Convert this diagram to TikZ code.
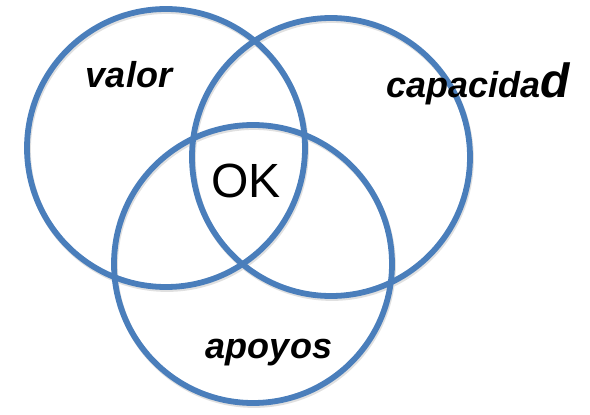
\documentclass[tikz,border=0pt]{standalone}
\usepackage{fontspec}
\setmainfont{Liberation Sans}
\usepackage{tikz}
\usetikzlibrary{shapes.geometric, positioning}
\definecolor{ringblue}{HTML}{4A7EBB}
\tikzstyle{ring} = [circle, draw=ringblue, line width=5.8pt, minimum size=278pt, inner sep=0pt]
\tikzstyle{ringshadow} = [circle, draw=black!12, line width=5.8pt, minimum size=278pt, inner sep=0pt]
\tikzstyle{setlabel} = [anchor=base, inner sep=0pt, font=\fontsize{36}{36}\selectfont\bfseries\itshape]

\begin{document}
\begin{tikzpicture}[x=1pt, y=-1pt]
     \useasboundingbox (0,0) rectangle (590,415);
     % Shadows
     \node [ringshadow] (valorsh) at (167,150) {};
     \node [ringshadow] (capsh) at (332,159) {};
     \node [ringshadow] (apoyossh) at (254,266) {};
     % Sets
     \node [ring] (valorset) at (166,148) {};
     \node [ring] (capset) at (331,157) {};
     \node [ring] (apoyosset) at (253,264) {};
     % Labels
     \node [setlabel] (valor) at (129,87) {valor};
     \node [setlabel] (cap) at (478,97) {capacida{\fontsize{48}{48}\selectfont d}};
     \node [setlabel] (apoyos) at (269,358) {apoyos};
     \node [anchor=base, inner sep=0pt, font=\fontsize{48}{48}\selectfont] (ok) at (246,197) {OK};
\end{tikzpicture}
\end{document}
